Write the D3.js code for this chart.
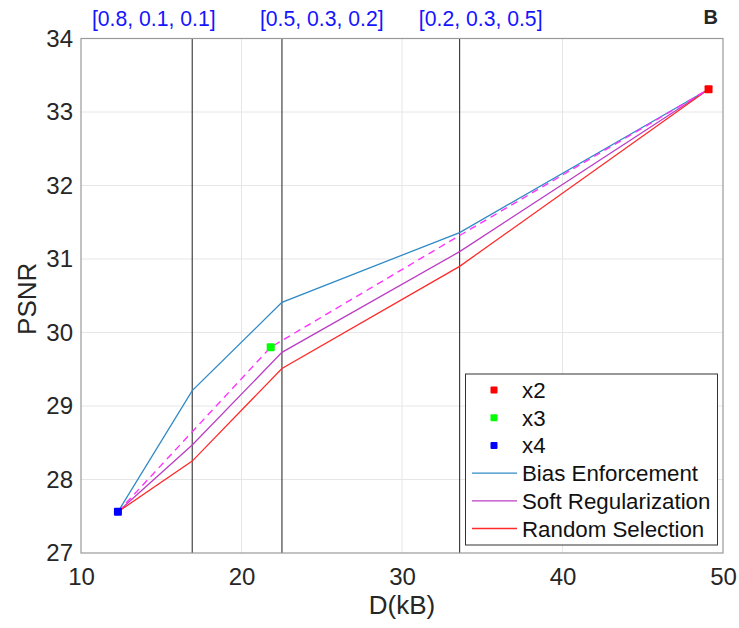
<!DOCTYPE html>
<html><head><meta charset="utf-8">
<script src="https://cdn.jsdelivr.net/npm/d3@7"></script>
<style>
body{margin:0;background:#fff;}
text{font-family:"Liberation Sans",Arial,Helvetica,sans-serif;}
</style></head>
<body><svg id="chart" width="739" height="628"></svg>
<script>
// ---- data ----
const xTicks = [10, 20, 30, 40, 50];
const yTicks = [27, 28, 29, 30, 31, 32, 33, 34];
const curveX = [12.3, 16.93, 22.52, 33.59, 49.1];
const biasEnforcement = [27.56, 29.21, 30.41, 31.36, 33.31];
const softRegularization = [27.56, 28.47, 29.73, 31.10, 33.31];
const randomSelection = [27.56, 28.25, 29.51, 30.90, 33.31];
const dashedX = [12.3, 21.82, 33.59, 49.1];
const dashedY = [27.56, 29.80, 31.32, 33.31];
const markerNames = ["x2", "x3", "x4"];
const markerX = [49.1, 21.82, 12.3];
const markerY = [33.31, 29.80, 27.56];
const markerColors = ["#ff0000", "#00ff00", "#0000ff"];
const weightLines = [16.93, 22.52, 33.59];
const weightLabels = ["[0.8, 0.1, 0.1]", "[0.5, 0.3, 0.2]", "[0.2, 0.3, 0.5]"];
const weightLabelX = [10.68, 21.15, 31.05];
const seriesNames = ["Bias Enforcement", "Soft Regularization", "Random Selection"];
const seriesColors = ["#2f8ac6", "#bb3ec4", "#ff2a2a"];
const dashedColor = "#ff33ff";

// ---- layout ----
const svg = d3.select("#chart");
const L = 81, R = 723, T = 38.5, B = 553;
const x = d3.scaleLinear().domain([10, 50]).range([L, R]);
const y = d3.scaleLinear().domain([27, 34]).range([B, T]);

// grid
svg.append("g").selectAll("line").data(xTicks.slice(1, -1)).join("line")
  .attr("x1", d => x(d)).attr("x2", d => x(d)).attr("y1", T).attr("y2", B)
  .attr("stroke", "#e6e6e6").attr("stroke-width", 1);
svg.append("g").selectAll("line").data(yTicks.slice(1, -1)).join("line")
  .attr("y1", d => y(d)).attr("y2", d => y(d)).attr("x1", L).attr("x2", R)
  .attr("stroke", "#e6e6e6").attr("stroke-width", 1);

// axes
const xAxis = d3.axisBottom(x).tickValues(xTicks).tickSize(0).tickPadding(15).tickFormat(d3.format("d"));
const gx = svg.append("g").attr("transform", `translate(0,${B})`).call(xAxis);
gx.select(".domain").remove();
gx.selectAll("text").attr("font-size", 24).attr("fill", "#262626")
  .attr("font-family", "Liberation Sans, Arial, sans-serif");
const yAxis = d3.axisLeft(y).tickValues(yTicks).tickSize(0).tickPadding(8).tickFormat(d3.format("d"));
const gy = svg.append("g").attr("transform", `translate(${L},0)`).call(yAxis);
gy.select(".domain").remove();
gy.selectAll("text").attr("font-size", 24).attr("fill", "#262626")
  .attr("font-family", "Liberation Sans, Arial, sans-serif");

// weight lines
svg.append("g").selectAll("line").data(weightLines).join("line")
  .attr("x1", d => x(d)).attr("x2", d => x(d)).attr("y1", T).attr("y2", B)
  .attr("stroke", "#333").attr("stroke-width", 1.1);

// box
svg.append("rect").attr("x", L).attr("y", T).attr("width", R - L).attr("height", B - T)
  .attr("fill", "none").attr("stroke", "#9a9a9a").attr("stroke-width", 1.2);

// series lines
const line = d3.line().x(d => x(d[0])).y(d => y(d[1]));
const seriesData = [biasEnforcement, softRegularization, randomSelection];
seriesData.forEach((vals, i) => {
  svg.append("path").datum(curveX.map((cx, j) => [cx, vals[j]]))
    .attr("d", line).attr("fill", "none").attr("stroke", seriesColors[i]).attr("stroke-width", 1.3);
});
svg.append("path").datum(dashedX.map((cx, j) => [cx, dashedY[j]]))
  .attr("d", line).attr("fill", "none").attr("stroke", dashedColor)
  .attr("stroke-width", 1.4).attr("stroke-dasharray", "7,5");

// markers
const ms = 8;
svg.append("g").selectAll("rect").data(markerNames).join("rect")
  .attr("x", (d, i) => x(markerX[i]) - ms / 2).attr("y", (d, i) => y(markerY[i]) - ms / 2)
  .attr("width", ms).attr("height", ms).attr("rx", 1)
  .attr("fill", (d, i) => markerColors[i]);

// weight labels
svg.append("g").selectAll("text").data(weightLabels).join("text")
  .attr("x", (d, i) => x(weightLabelX[i])).attr("y", 26)
  .attr("font-size", 21.2).attr("fill", "#1414ff").text(d => d);

// panel letter
svg.append("text").attr("x", 718).attr("y", 24).attr("text-anchor", "end")
  .attr("font-size", 20).attr("font-weight", "bold").attr("fill", "#262626").text("B");

// axis titles
svg.append("text").attr("x", x(30)).attr("y", 614).attr("text-anchor", "middle")
  .attr("font-size", 26).attr("fill", "#262626").text("D(kB)");
svg.append("text").attr("transform", `translate(36,${(T + B) / 2 + 3}) rotate(-90)`)
  .attr("text-anchor", "middle").attr("font-size", 26).attr("fill", "#262626").text("PSNR");

// legend
const lg = svg.append("g");
lg.append("rect").attr("x", 465.5).attr("y", 374).attr("width", 252).attr("height", 171)
  .attr("fill", "#fff").attr("stroke", "#333").attr("stroke-width", 1);
const rowY = i => 390 + i * 27.7;
markerNames.forEach((n, i) => {
  lg.append("rect").attr("x", 494 - 3.5).attr("y", rowY(i) - 3.5).attr("width", 7).attr("height", 7)
    .attr("rx", 1).attr("fill", markerColors[i]);
  lg.append("text").attr("x", 522).attr("y", rowY(i) + 8).attr("font-size", 22.3)
    .attr("fill", "#111").text(n);
});
seriesNames.forEach((n, i) => {
  const yy = rowY(i + 3);
  lg.append("line").attr("x1", 472).attr("x2", 517).attr("y1", yy).attr("y2", yy)
    .attr("stroke", seriesColors[i]).attr("stroke-width", 1.3);
  lg.append("text").attr("x", 522).attr("y", yy + 8).attr("font-size", 22.3)
    .attr("fill", "#111").text(n);
});
</script></body></html>
